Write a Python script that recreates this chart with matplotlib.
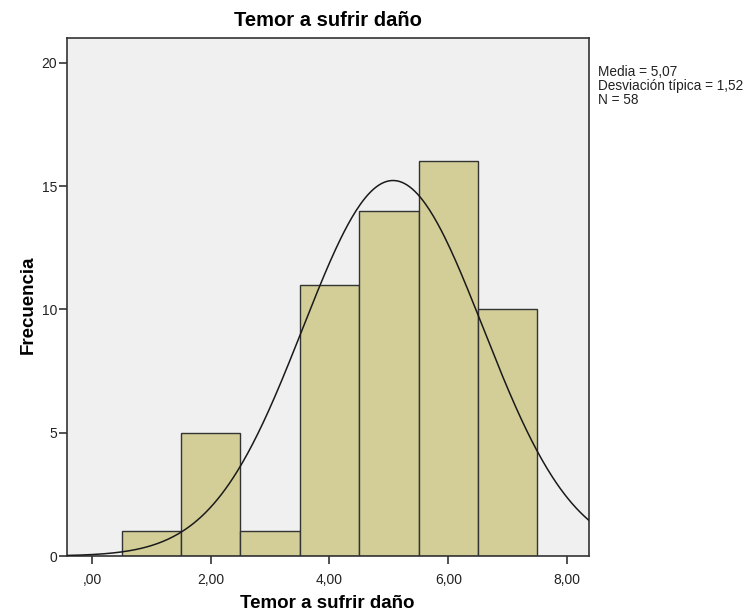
import numpy as np
import matplotlib
matplotlib.use('Agg')
import matplotlib.pyplot as plt

plt.rcParams['font.family'] = ['Liberation Sans', 'DejaVu Sans']

# Histogram data (bin centres and counts)
bin_centers = [1, 2, 3, 4, 5, 6, 7]
counts = [1, 5, 1, 11, 14, 16, 10]
bin_width = 1.0

# Summary stats shown in the chart
media = 5.07
desv = 1.52
n_total = 58

x_ticks = [0, 2, 4, 6, 8]
x_tick_labels = [',00', '2,00', '4,00', '6,00', '8,00']
y_ticks = [0, 5, 10, 15, 20]

fig = plt.figure(figsize=(7.48, 6.16), dpi=100)
ax = fig.add_axes([67 / 748, 60 / 616, 522 / 748, 518 / 616])
ax.set_facecolor('#f0f0f0')

ax.bar(bin_centers, counts, width=bin_width, color='#d3ce98', edgecolor='#333333', linewidth=1.0, zorder=2)

# Normal curve with the same mean / sd, scaled to counts
xs = np.linspace(-0.42, 8.37, 400)
ys = n_total * bin_width / (desv * np.sqrt(2 * np.pi)) * np.exp(-0.5 * ((xs - media) / desv) ** 2)
ax.plot(xs, ys, color='#1a1a1a', linewidth=1.1, zorder=3)

ax.set_xlim(-0.42, 8.37)
ax.set_ylim(0, 21.0)
ax.set_xticks(x_ticks)
ax.set_xticklabels(x_tick_labels)
ax.set_yticks(y_ticks)
ax.tick_params(axis='both', direction='out', length=6, width=1.2, color='#333333', labelsize=10, labelcolor='#222222')
ax.tick_params(axis='x', pad=6)
ax.tick_params(axis='y', pad=1)
for sp in ax.spines.values():
    sp.set_color('#333333')
    sp.set_linewidth(1.2)

ax.set_title('Temor a sufrir daño', fontsize=14.5, fontweight='bold', pad=9)
ax.set_xlabel('Temor a sufrir daño', fontsize=13.5, fontweight='bold', va='center')
ax.set_ylabel('Frecuencia', fontsize=13.5, fontweight='bold', va='center')
ax.xaxis.set_label_coords((327 - 67) / 522, (556 - 603) / 518)
ax.yaxis.set_label_coords((28 - 67) / 522, (556 - 305) / 518)

stats = f'Media = {media:.2f}\nDesviación típica = {desv:.2f}\nN = {n_total}'.replace('.', ',')
fig.text(598 / 748, 1 - 65 / 616, stats, fontsize=9.8, va='top', ha='left', linespacing=1.0, color='#222222')

fig.savefig('out.png', dpi=100, facecolor='white')
